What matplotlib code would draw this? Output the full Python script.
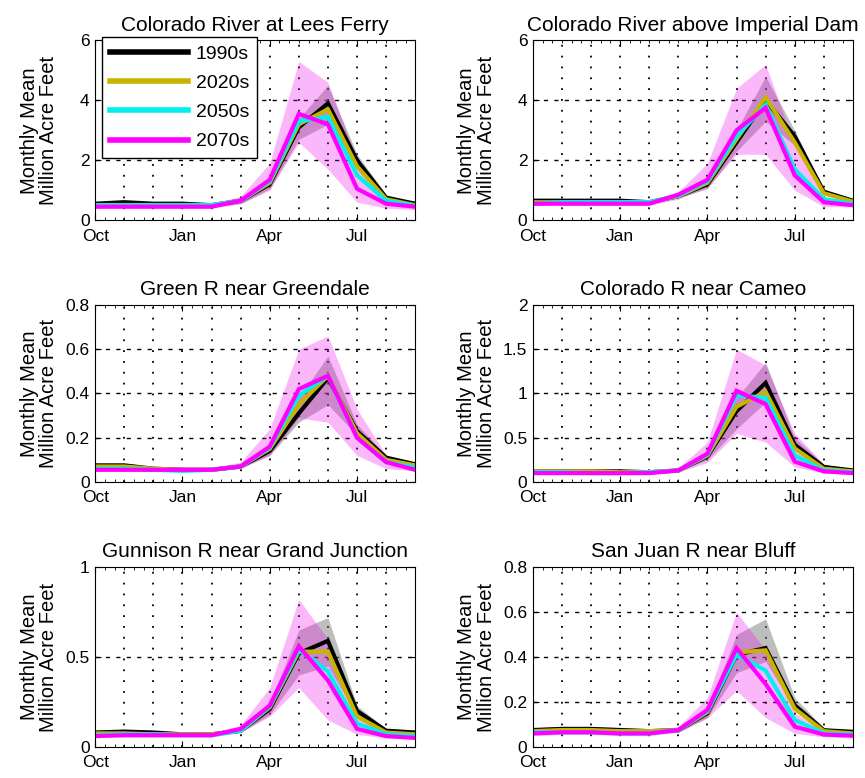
import matplotlib
matplotlib.use("Agg")
import matplotlib.pyplot as plt
from matplotlib.ticker import MultipleLocator, FormatStrFormatter

plt.rcParams['font.family'] = ['Liberation Sans', 'DejaVu Sans']

months = list(range(1, 13))  # Oct .. Sep
tick_pos = [1, 4, 7, 10]
tick_labels = ['Oct', 'Jan', 'Apr', 'Jul']
decades = ['1990s', '2020s', '2050s', '2070s']
colors = ['black', '#c8b400', '#00f0f0', '#ff00ff']

# Colorado River at Lees Ferry
lees_1990 = [0.55, 0.6, 0.55, 0.55, 0.5, 0.65, 1.2, 3.1, 3.9, 2.0, 0.75, 0.55]
lees_2020 = [0.5, 0.5, 0.5, 0.5, 0.5, 0.65, 1.25, 3.2, 3.7, 1.8, 0.7, 0.5]
lees_2050 = [0.5, 0.5, 0.5, 0.5, 0.5, 0.65, 1.3, 3.3, 3.45, 1.5, 0.65, 0.48]
lees_2070 = [0.45, 0.45, 0.45, 0.45, 0.45, 0.65, 1.35, 3.55, 3.2, 1.05, 0.55, 0.45]
lees_gray_lo = [0.5, 0.55, 0.5, 0.5, 0.45, 0.55, 1.05, 2.7, 3.2, 1.8, 0.65, 0.5]
lees_gray_hi = [0.6, 0.65, 0.6, 0.6, 0.55, 0.7, 1.3, 3.4, 4.5, 2.2, 0.85, 0.6]
lees_pink_lo = [0.4, 0.4, 0.4, 0.4, 0.4, 0.55, 1.0, 2.6, 1.7, 0.6, 0.4, 0.35]
lees_pink_hi = [0.55, 0.6, 0.55, 0.55, 0.55, 0.8, 1.9, 5.3, 4.6, 2.0, 0.8, 0.55]

# Colorado River above Imperial Dam
imp_1990 = [0.65, 0.65, 0.65, 0.65, 0.6, 0.8, 1.2, 2.6, 4.0, 2.8, 0.95, 0.65]
imp_2020 = [0.6, 0.6, 0.6, 0.6, 0.6, 0.8, 1.25, 2.7, 4.1, 2.6, 0.9, 0.62]
imp_2050 = [0.55, 0.6, 0.6, 0.6, 0.6, 0.82, 1.3, 2.8, 3.85, 1.7, 0.7, 0.55]
imp_2070 = [0.55, 0.55, 0.55, 0.55, 0.55, 0.85, 1.35, 3.0, 3.75, 1.5, 0.6, 0.5]
imp_gray_lo = [0.6, 0.6, 0.6, 0.6, 0.55, 0.75, 1.05, 2.3, 3.3, 2.5, 0.85, 0.6]
imp_gray_hi = [0.7, 0.7, 0.7, 0.7, 0.65, 0.85, 1.3, 3.0, 4.8, 3.0, 1.0, 0.7]
imp_pink_lo = [0.5, 0.5, 0.5, 0.5, 0.5, 0.7, 1.1, 2.2, 2.2, 1.0, 0.45, 0.45]
imp_pink_hi = [0.65, 0.65, 0.65, 0.65, 0.65, 0.95, 1.9, 4.4, 5.2, 2.5, 0.75, 0.6]

# Green R near Greendale
grn_1990 = [0.075, 0.075, 0.06, 0.055, 0.055, 0.07, 0.14, 0.31, 0.47, 0.23, 0.11, 0.08]
grn_2020 = [0.07, 0.07, 0.06, 0.055, 0.055, 0.07, 0.15, 0.35, 0.48, 0.22, 0.1, 0.075]
grn_2050 = [0.06, 0.06, 0.055, 0.05, 0.055, 0.07, 0.155, 0.39, 0.48, 0.2, 0.09, 0.065]
grn_2070 = [0.055, 0.055, 0.055, 0.055, 0.055, 0.07, 0.16, 0.42, 0.48, 0.2, 0.09, 0.055]
grn_gray_lo = [0.07, 0.07, 0.055, 0.05, 0.05, 0.065, 0.12, 0.27, 0.35, 0.21, 0.1, 0.075]
grn_gray_hi = [0.08, 0.08, 0.065, 0.06, 0.06, 0.08, 0.16, 0.38, 0.57, 0.26, 0.12, 0.085]
grn_pink_lo = [0.05, 0.05, 0.05, 0.05, 0.05, 0.06, 0.12, 0.29, 0.27, 0.12, 0.06, 0.05]
grn_pink_hi = [0.065, 0.065, 0.065, 0.065, 0.065, 0.09, 0.24, 0.6, 0.66, 0.33, 0.12, 0.07]

# Colorado R near Cameo
cam_1990 = [0.12, 0.12, 0.12, 0.12, 0.11, 0.13, 0.29, 0.8, 1.12, 0.42, 0.17, 0.13]
cam_2020 = [0.12, 0.12, 0.12, 0.11, 0.11, 0.13, 0.3, 0.85, 1.02, 0.38, 0.15, 0.12]
cam_2050 = [0.11, 0.11, 0.1, 0.1, 0.11, 0.13, 0.31, 0.98, 0.95, 0.3, 0.13, 0.11]
cam_2070 = [0.1, 0.1, 0.1, 0.1, 0.1, 0.13, 0.32, 1.03, 0.88, 0.23, 0.12, 0.1]
cam_gray_lo = [0.1, 0.1, 0.1, 0.1, 0.1, 0.12, 0.25, 0.6, 0.9, 0.38, 0.15, 0.12]
cam_gray_hi = [0.13, 0.13, 0.13, 0.13, 0.12, 0.15, 0.33, 0.95, 1.35, 0.5, 0.2, 0.14]
cam_pink_lo = [0.09, 0.09, 0.09, 0.09, 0.09, 0.11, 0.22, 0.55, 0.45, 0.17, 0.1, 0.09]
cam_pink_hi = [0.12, 0.12, 0.12, 0.12, 0.12, 0.16, 0.45, 1.5, 1.32, 0.55, 0.2, 0.12]

# Gunnison R near Grand Junction
gun_1990 = [0.08, 0.085, 0.08, 0.07, 0.07, 0.09, 0.21, 0.52, 0.59, 0.2, 0.09, 0.08]
gun_2020 = [0.075, 0.075, 0.07, 0.07, 0.07, 0.09, 0.22, 0.53, 0.53, 0.17, 0.08, 0.07]
gun_2050 = [0.065, 0.07, 0.07, 0.065, 0.065, 0.09, 0.225, 0.54, 0.42, 0.13, 0.07, 0.06]
gun_2070 = [0.06, 0.065, 0.065, 0.065, 0.065, 0.1, 0.23, 0.56, 0.37, 0.1, 0.06, 0.05]
gun_gray_lo = [0.07, 0.075, 0.07, 0.065, 0.065, 0.08, 0.18, 0.4, 0.45, 0.17, 0.08, 0.07]
gun_gray_hi = [0.09, 0.095, 0.09, 0.08, 0.08, 0.1, 0.24, 0.65, 0.72, 0.23, 0.1, 0.09]
gun_pink_lo = [0.055, 0.055, 0.055, 0.055, 0.055, 0.08, 0.17, 0.33, 0.15, 0.07, 0.05, 0.045]
gun_pink_hi = [0.075, 0.1, 0.075, 0.075, 0.075, 0.12, 0.33, 0.82, 0.6, 0.18, 0.08, 0.065]

# San Juan R near Bluff
sj_1990 = [0.075, 0.08, 0.08, 0.075, 0.07, 0.075, 0.15, 0.41, 0.44, 0.185, 0.074, 0.067]
sj_2020 = [0.07, 0.075, 0.075, 0.07, 0.07, 0.075, 0.155, 0.42, 0.43, 0.17, 0.07, 0.06]
sj_2050 = [0.065, 0.065, 0.065, 0.06, 0.06, 0.075, 0.16, 0.41, 0.34, 0.12, 0.06, 0.055]
sj_2070 = [0.06, 0.065, 0.065, 0.06, 0.06, 0.075, 0.165, 0.44, 0.28, 0.09, 0.055, 0.05]
sj_gray_lo = [0.065, 0.07, 0.07, 0.065, 0.06, 0.065, 0.13, 0.33, 0.38, 0.17, 0.065, 0.06]
sj_gray_hi = [0.085, 0.09, 0.09, 0.085, 0.08, 0.085, 0.17, 0.5, 0.57, 0.22, 0.085, 0.075]
sj_pink_lo = [0.05, 0.055, 0.055, 0.05, 0.05, 0.065, 0.13, 0.25, 0.13, 0.06, 0.045, 0.04]
sj_pink_hi = [0.075, 0.09, 0.08, 0.075, 0.07, 0.09, 0.22, 0.6, 0.43, 0.15, 0.07, 0.06]

panels = [
    ('Colorado River at Lees Ferry', [lees_1990, lees_2020, lees_2050, lees_2070],
     lees_gray_lo, lees_gray_hi, lees_pink_lo, lees_pink_hi, 6, 2),
    ('Colorado River above Imperial Dam', [imp_1990, imp_2020, imp_2050, imp_2070],
     imp_gray_lo, imp_gray_hi, imp_pink_lo, imp_pink_hi, 6, 2),
    ('Green R near Greendale', [grn_1990, grn_2020, grn_2050, grn_2070],
     grn_gray_lo, grn_gray_hi, grn_pink_lo, grn_pink_hi, 0.8, 0.2),
    ('Colorado R near Cameo', [cam_1990, cam_2020, cam_2050, cam_2070],
     cam_gray_lo, cam_gray_hi, cam_pink_lo, cam_pink_hi, 2, 0.5),
    ('Gunnison R near Grand Junction', [gun_1990, gun_2020, gun_2050, gun_2070],
     gun_gray_lo, gun_gray_hi, gun_pink_lo, gun_pink_hi, 1, 0.5),
    ('San Juan R near Bluff', [sj_1990, sj_2020, sj_2050, sj_2070],
     sj_gray_lo, sj_gray_hi, sj_pink_lo, sj_pink_hi, 0.8, 0.2),
]

fig = plt.figure(figsize=(8.65, 7.78), dpi=100)
lefts = [0.110, 0.616]
bottoms = [0.717, 0.3805, 0.040]
heights = [0.231, 0.2275, 0.231]

for i, (title, series, glo, ghi, plo, phi, ymax, ystep) in enumerate(panels):
    row, col = divmod(i, 2)
    ax = fig.add_axes([lefts[col], bottoms[row], 0.370, heights[row]])
    ax.fill_between(months, glo, ghi, color='#707070', alpha=0.45, lw=0)
    ax.fill_between(months, plo, phi, color='#ee00ee', alpha=0.28, lw=0)
    for vals, c, lab in zip(series, colors, decades):
        ax.plot(months, vals, color=c, lw=3, label=lab, solid_joinstyle='miter')
    ax.set_xlim(1, 12)
    ax.set_ylim(0, ymax)
    ax.set_xticks(tick_pos)
    ax.set_xticklabels(tick_labels)
    ax.xaxis.set_minor_locator(MultipleLocator(1 / 3))
    ax.yaxis.set_major_locator(MultipleLocator(ystep))
    ax.yaxis.set_major_formatter(FormatStrFormatter('%g'))
    ax.tick_params(which='both', direction='in', top=True, right=True, labelsize=12.5)
    ax.tick_params(which='major', length=4)
    ax.tick_params(which='minor', length=2)
    ax.tick_params(axis='x', which='major', pad=6)
    ax.tick_params(axis='y', which='major', pad=4)
    for m in months[1:-1]:
        ax.axvline(m, color='black', lw=1.3, ls=(0, (1, 5)), zorder=0.5)
    for yv in [ystep * k for k in range(1, int(round(ymax / ystep)))]:
        ax.axhline(yv, color='black', lw=1.0, ls=(0, (3, 4.5)), zorder=0.5)
    ax.set_title(title, fontsize=15, pad=7)
    ax.set_ylabel('Monthly Mean\nMillion Acre Feet', fontsize=14.5, linespacing=1.05)
    ax.yaxis.set_label_coords(-0.115, 0.5)
    if i == 0:
        leg = ax.legend(loc='upper left', bbox_to_anchor=(0.01, 1.04), fontsize=14,
                        handlelength=4.0, handletextpad=0.4, fancybox=False,
                        framealpha=1, edgecolor='black', borderpad=0.4,
                        labelspacing=0.6, borderaxespad=0.2)
        for h in leg.get_lines():
            h.set_linewidth(4)

fig.savefig('out.png', dpi=100)
